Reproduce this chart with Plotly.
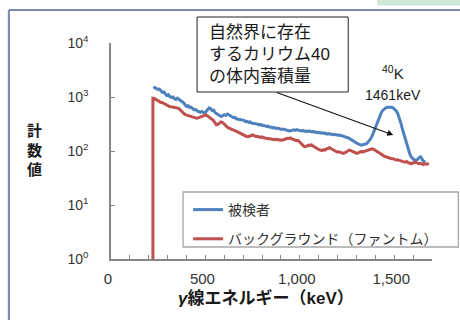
import plotly.graph_objects as go

# Gamma-ray spectrum: subject vs. background (phantom)
subject_kev = [224, 232, 240, 248, 256, 264, 272, 280, 288, 296, 304, 312, 320, 328, 336, 344,
               352, 360, 368, 376, 384, 392, 400, 408, 416, 424, 432, 440, 448, 456, 464, 472,
               480, 488, 496, 504, 512, 520, 528, 536, 544, 552, 560, 568, 576, 584, 592, 600,
               608, 616, 624, 632, 640, 648, 656, 664, 672, 680, 688, 696, 704, 712, 720, 728,
               736, 744, 752, 760, 768, 776, 784, 792, 800, 808, 816, 824, 832, 840, 848, 856,
               864, 872, 880, 888, 896, 904, 912, 920, 928, 936, 944, 952, 960, 968, 976, 984,
               992, 1000, 1008, 1016, 1024, 1032, 1040, 1048, 1056, 1064, 1072, 1080, 1088,
               1096, 1104, 1112, 1120, 1128, 1136, 1144, 1152, 1160, 1168, 1176, 1184, 1192,
               1200, 1208, 1216, 1224, 1232, 1240, 1248, 1256, 1264, 1272, 1280, 1288, 1296,
               1304, 1312, 1320, 1328, 1336, 1344, 1352, 1360, 1368, 1376, 1384, 1392, 1400,
               1408, 1416, 1424, 1432, 1440, 1448, 1456, 1464, 1472, 1480, 1488, 1496, 1504,
               1512, 1520, 1528, 1536, 1544, 1552, 1560, 1568, 1576, 1584, 1592, 1600, 1608,
               1616, 1624, 1632, 1640, 1648, 1656, 1665]
subject_counts = [1450, 1500, 1440, 1380, 1400, 1300, 1220, 1240, 1120, 1060, 1100, 1010, 980,
                  1000, 930, 900, 950, 920, 860, 820, 790, 720, 670, 690, 640, 650, 600, 580,
                  590, 550, 540, 520, 540, 510, 500, 540, 590, 630, 610, 560, 570, 510, 490, 470,
                  440, 435, 450, 470, 455, 485, 470, 440, 430, 415, 420, 395, 390, 380, 372, 365,
                  370, 350, 355, 340, 345, 330, 325, 330, 318, 315, 305, 310, 298, 300, 292, 284,
                  288, 276, 278, 268, 272, 262, 265, 258, 256, 250, 255, 248, 245, 240, 236, 238,
                  242, 246, 240, 248, 244, 240, 236, 240, 232, 234, 228, 236, 230, 226, 230, 222,
                  225, 218, 220, 214, 218, 212, 214, 206, 210, 204, 206, 200, 203, 198, 200, 194,
                  196, 190, 186, 184, 178, 176, 168, 162, 155, 150, 142, 138, 134, 130, 128, 131,
                  133, 136, 144, 154, 170, 195, 230, 285, 340, 400, 460, 520, 570, 605, 630, 645,
                  650, 652, 645, 620, 590, 545, 480, 400, 320, 250, 200, 155, 122, 100, 85, 76,
                  70, 67, 68, 70, 76, 78, 70, 64, 62]

background_kev = [222, 222, 230, 238, 246, 254, 262, 270, 278, 286, 294, 302, 310, 318, 326, 334,
                  342, 350, 358, 366, 374, 382, 390, 398, 406, 414, 422, 430, 438, 446, 454, 462,
                  470, 478, 486, 494, 502, 510, 518, 526, 534, 542, 550, 558, 566, 574, 582, 590,
                  598, 606, 614, 622, 630, 638, 646, 654, 662, 670, 678, 686, 694, 702, 710, 718,
                  726, 734, 742, 750, 758, 766, 774, 782, 790, 798, 806, 814, 822, 830, 838, 846,
                  854, 862, 870, 878, 886, 894, 902, 910, 918, 926, 934, 942, 950, 958, 966, 974,
                  982, 990, 998, 1006, 1014, 1022, 1030, 1038, 1046, 1054, 1062, 1070, 1078, 1086,
                  1094, 1102, 1110, 1118, 1126, 1134, 1142, 1150, 1158, 1166, 1174, 1182, 1190,
                  1198, 1206, 1214, 1222, 1230, 1238, 1246, 1254, 1262, 1270, 1278, 1286, 1294,
                  1302, 1310, 1318, 1326, 1334, 1342, 1350, 1358, 1366, 1374, 1382, 1390, 1398,
                  1406, 1414, 1422, 1430, 1438, 1446, 1454, 1462, 1470, 1478, 1486, 1494, 1502,
                  1510, 1518, 1526, 1534, 1542, 1550, 1558, 1566, 1574, 1582, 1590, 1598, 1606,
                  1614, 1622, 1630, 1638, 1646, 1654, 1662, 1670, 1678, 1683]
background_counts = [1, 950, 940, 900, 870, 850, 800, 790, 760, 730, 700, 690, 665, 660, 650, 640,
                     625, 620, 615, 580, 540, 505, 480, 465, 455, 440, 430, 425, 415, 410, 403,
                     410, 420, 435, 445, 455, 465, 450, 430, 410, 400, 370, 335, 305, 310, 330,
                     345, 340, 315, 295, 280, 268, 258, 252, 246, 240, 232, 225, 216, 210, 204,
                     198, 192, 186, 184, 190, 194, 198, 192, 186, 188, 180, 178, 182, 176, 174,
                     172, 170, 168, 170, 164, 166, 162, 164, 160, 162, 158, 160, 164, 168, 172,
                     170, 174, 168, 164, 160, 156, 158, 150, 140, 130, 122, 120, 124, 128, 126,
                     130, 124, 118, 112, 110, 106, 104, 102, 106, 104, 110, 113, 115, 110, 106,
                     100, 98, 96, 97, 94, 92, 90, 92, 96, 100, 104, 102, 98, 94, 92, 90, 92, 95,
                     98, 96, 98, 101, 104, 106, 108, 110, 108, 104, 98, 94, 90, 88, 84, 80, 78,
                     76, 75, 74, 72, 72, 70, 68, 69, 67, 66, 64, 63, 62, 64, 61, 59, 58, 60, 61,
                     62, 60, 58, 59, 57, 56, 58, 57, 58, 59]

x_tickvals = list(range(0, 1800, 100))
x_ticktext = [{0: "0", 500: "500", 1000: "1,000", 1500: "1,500"}.get(v, "") for v in x_tickvals]
y_tickvals = [1, 10, 100, 1000, 10000]
y_ticktext = ["10<sup>0</sup>", "10<sup>1</sup>", "10<sup>2</sup>", "10<sup>3</sup>", "10<sup>4</sup>"]

series_names = ["被検者", "バックグラウンド（ファントム）"]

BLUE = "#4f81bd"
RED = "#c0504d"
FONT = "Liberation Sans, Arial, Noto Sans CJK JP"

# plot area in pixels
L, R, T, B = 111, 431.7, 43, 259
W, H = R - L, B - T


def px(x):
    return (x - L) / W


def py(y):
    return (B - y) / H


fig = go.Figure()
fig.add_trace(go.Scatter(x=subject_kev, y=subject_counts, mode="lines", name=series_names[0],
                         legendgroup="a", line=dict(color=BLUE, width=3)))
fig.add_trace(go.Scatter(x=background_kev, y=background_counts, mode="lines", name=series_names[1],
                         legendgroup="b", line=dict(color=RED, width=3)))

axis_line = dict(showline=True, linecolor="#868686", linewidth=1.5, showgrid=False,
                 zeroline=False, ticks="inside", ticklen=4, tickcolor="#868686", tickwidth=1.2)

fig.update_xaxes(range=[0, 1700], tickmode="array", tickvals=x_tickvals, ticktext=x_ticktext,
                 tickfont=dict(size=15, color="#333333"), ticklabelstandoff=5,
                 ticklabelshift=-3, **axis_line)
fig.update_yaxes(type="log", range=[0, 4], tickmode="array", tickvals=y_tickvals,
                 ticktext=y_ticktext, tickfont=dict(size=14, color="#333333"),
                 ticklabelstandoff=18, **axis_line)

shapes = [
    # outer slide frame
    dict(type="line", xref="paper", yref="paper", x0=px(9), x1=px(470), y0=py(10), y1=py(10),
         line=dict(color="#7b8cb3", width=2.2)),
    dict(type="line", xref="paper", yref="paper", x0=px(9), x1=px(9), y0=py(10), y1=py(330),
         line=dict(color="#7b8cb3", width=2.2)),
    dict(type="rect", xref="paper", yref="paper", x0=px(377), x1=px(465), y0=py(5.5), y1=py(-5),
         line=dict(width=0), fillcolor="#cde8d6"),
    # legend frame
    dict(type="rect", xref="paper", yref="paper", x0=px(183), x1=px(458), y0=py(247), y1=py(192),
         line=dict(color="#a6a6a6", width=1.3), fillcolor="rgba(0,0,0,0)"),
    # callout box
    dict(type="rect", xref="paper", yref="paper", x0=px(197), x1=px(348), y0=py(92), y1=py(17),
         line=dict(color="#222222", width=1), fillcolor="white"),
]

annotations = [
    dict(xref="paper", yref="paper", x=px(207), y=py(54), xanchor="left", yanchor="middle",
         text="自然界に存在<br>するカリウム40<br>の体内蓄積量", align="left", showarrow=False,
         font=dict(size=17, color="#1a1a1a", family=FONT)),
    dict(xref="paper", yref="paper", x=px(393), y=py(73), xanchor="center", yanchor="middle",
         text="<sup>40</sup>K", showarrow=False, font=dict(size=15, color="#1a1a1a", family=FONT)),
    dict(xref="paper", yref="paper", x=px(393), y=py(95), xanchor="center", yanchor="middle",
         text="1461keV", showarrow=False, font=dict(size=14, color="#1a1a1a", family=FONT)),
    dict(xref="paper", yref="paper", x=px(393), y=py(135), ax=-118, ay=-43, text="",
         showarrow=True, arrowhead=2, arrowsize=1.1, arrowwidth=1.1, arrowcolor="#111111"),
    dict(xref="paper", yref="paper", x=px(35), y=py(150), xanchor="center", yanchor="middle",
         text="<b>計<br>数<br>値</b>", showarrow=False,
         font=dict(size=15, color="#1a1a1a", family=FONT)),
    dict(xref="paper", yref="paper", x=px(266), y=py(298), xanchor="center", yanchor="middle",
         text="<b><i>γ</i>線エネルギー（keV）</b>", showarrow=False,
         font=dict(size=17, color="#1a1a1a", family=FONT)),
]

fig.update_layout(
    width=460, height=320,
    margin=dict(l=L, r=460 - R, t=T, b=320 - B, pad=0),
    paper_bgcolor="white", plot_bgcolor="white",
    font=dict(family=FONT, color="#333333"),
    showlegend=True,
    legend=dict(x=px(188), y=py(194), xanchor="left", yanchor="top", traceorder="grouped",
                tracegroupgap=8, bgcolor="rgba(0,0,0,0)", borderwidth=0,
                font=dict(size=14, color="#333333", family=FONT)),
    shapes=shapes,
    annotations=annotations,
)

fig.write_html("out.html")
